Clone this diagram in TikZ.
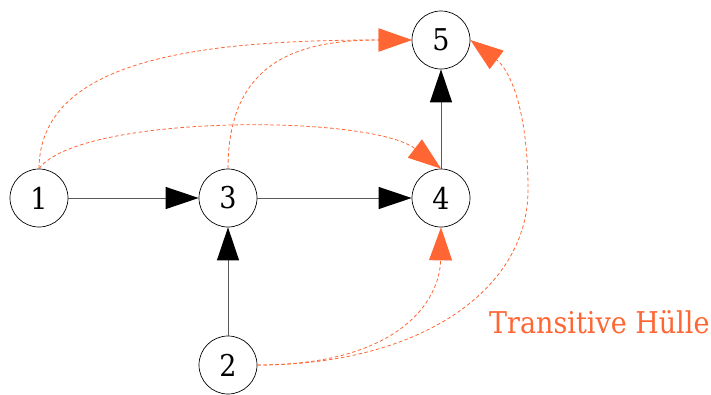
\documentclass[tikz,border=0pt]{standalone}
\usepackage{fontspec}
\setmainfont{DejaVu Serif Condensed}
\usetikzlibrary{arrows.meta}
\definecolor{hull}{HTML}{FF6633}
\begin{document}
\begin{tikzpicture}[x=1pt,y=-1pt,
  vertex/.style={circle,draw=black,line width=0.7pt,minimum size=58pt,inner sep=0pt,
    font=\fontsize{30}{36}\selectfont},
  edge/.style={draw=black!65,line width=1pt,-{Triangle[length=33pt,width=22pt,color=black]}},
  closure/.style={draw=hull,line width=0.8pt,dash pattern=on 3.5pt off 2.5pt,
    -{Triangle[length=33pt,width=23pt,color=hull]}}]
\useasboundingbox (0,0) rectangle (711,394);
% vertices
\node[vertex] (n1) at (39,198) {1};
\node[vertex] (n3) at (228,198) {3};
\node[vertex] (n4) at (441,198) {4};
\node[vertex] (n5) at (441,40) {5};
\node[vertex] (n2) at (228,365) {2};
% relation
\draw[edge] (n1) -- (n3);
\draw[edge] (n3) -- (n4);
\draw[edge] (n2) -- (n3);
\draw[edge] (n4) -- (n5);
% transitive closure
\draw[closure] (n1.north) .. controls (40,62) and (190,40) .. (n5.west);
\draw[closure] (n3.north) .. controls (228,60) and (300,40) .. (n5.west);
\draw[closure] (n1.north) .. controls (80,114) and (370,114) .. (n4.north);
\draw[closure] (n2.east) .. controls (400,365) and (440,300) .. (n4.south);
\draw[closure] (n2.east) .. controls (420,365) and (528,290) .. (528,190)
  .. controls (528,110) and (510,70) .. (n5.east);
\node[anchor=base west,text=hull,inner sep=0pt,font=\fontsize{30}{36}\selectfont]
  (lbl) at (489,333) {Transitive Hülle};
\end{tikzpicture}
\end{document}
